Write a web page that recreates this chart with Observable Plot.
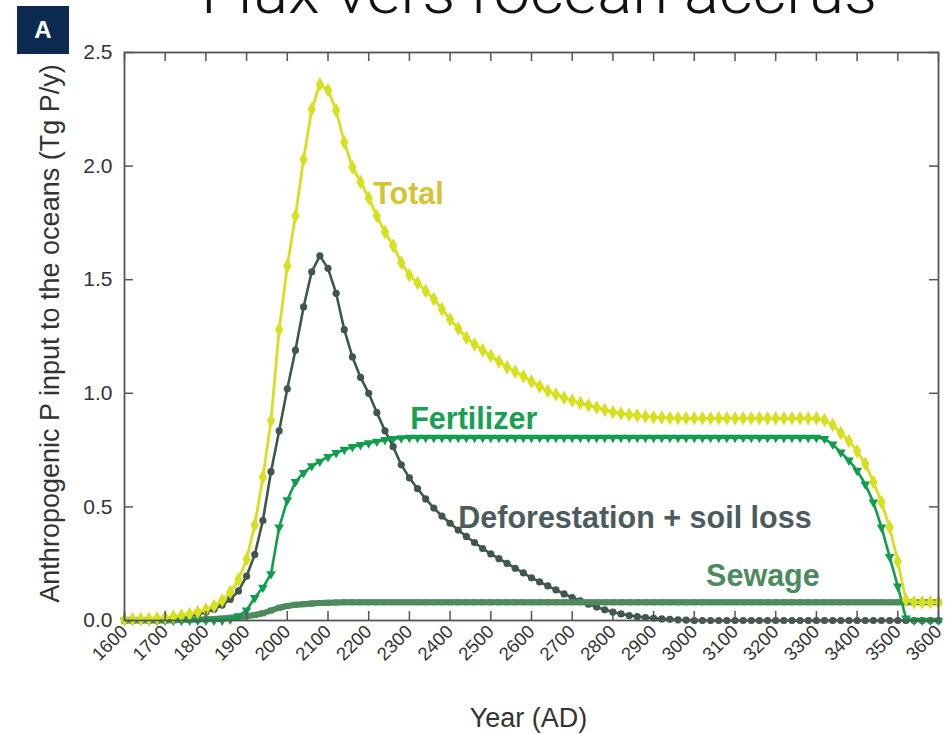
<!DOCTYPE html>
<html><head><meta charset="utf-8">
<script src="https://cdn.jsdelivr.net/npm/d3@7"></script>
<script src="https://cdn.jsdelivr.net/npm/@observablehq/plot@0.6"></script>
<style>
body{margin:0;background:#fff;}
#wrap{position:relative;width:945px;height:734px;overflow:hidden;font-family:"Liberation Sans",Arial,sans-serif;}
#overlay{position:absolute;left:0;top:0;pointer-events:none;}
</style></head><body><div id="wrap"></div>
<script>
// Sample years (every 20 years)
const years = [1600,1620,1640,1660,1680,1700,1720,1740,1760,1780,1800,1820,1840,1860,1880,1900,1920,1940,1960,1980,
2000,2020,2040,2060,2080,2100,2120,2140,2160,2180,2200,2220,2240,2260,2280,2300,2320,2340,2360,2380,
2400,2420,2440,2460,2480,2500,2520,2540,2560,2580,2600,2620,2640,2660,2680,2700,2720,2740,2760,2780,
2800,2820,2840,2860,2880,2900,2920,2940,2960,2980,3000,3020,3040,3060,3080,3100,3120,3140,3160,3180,
3200,3220,3240,3260,3280,3300,3320,3340,3360,3380,3400,3420,3440,3460,3480,3500,3520,3540,3560,3580,3600];

const totalVals = [0.004,0.005,0.006,0.008,0.010,0.013,0.017,0.022,0.029,0.037,0.048,0.064,0.088,0.125,0.18,0.27,0.42,0.63,0.88,1.28,
1.56,1.78,2.03,2.25,2.36,2.335,2.245,2.105,1.995,1.93,1.86,1.78,1.71,1.65,1.575,1.52,1.485,1.45,1.415,1.37,
1.325,1.285,1.245,1.215,1.19,1.165,1.14,1.115,1.095,1.075,1.052,1.03,1.01,0.995,0.98,0.968,0.957,0.947,0.937,0.927,
0.918,0.911,0.906,0.902,0.898,0.895,0.893,0.891,0.89,0.89,0.89,0.89,0.89,0.89,0.89,0.89,0.89,0.89,0.89,0.89,
0.89,0.89,0.89,0.89,0.89,0.89,0.882,0.86,0.825,0.79,0.745,0.69,0.61,0.52,0.41,0.26,0.09,0.08,0.08,0.08,0.08];

const fertilizerVals = [0,0,0,0,0,0,0,0,0,0,0,0,0,0.005,0.02,0.045,0.1,0.145,0.205,0.41,
0.53,0.61,0.65,0.68,0.70,0.72,0.738,0.752,0.764,0.773,0.781,0.788,0.795,0.80,0.803,0.805,0.805,0.805,0.805,0.805,
0.805,0.805,0.805,0.805,0.805,0.805,0.805,0.805,0.805,0.805,0.805,0.805,0.805,0.805,0.805,0.805,0.805,0.805,0.805,0.805,
0.805,0.805,0.805,0.805,0.805,0.805,0.805,0.805,0.805,0.805,0.805,0.805,0.805,0.805,0.805,0.805,0.805,0.805,0.805,0.805,
0.805,0.805,0.805,0.805,0.805,0.805,0.80,0.775,0.74,0.705,0.66,0.60,0.52,0.41,0.28,0.15,0.01,0,0,0,0];

const deforestationVals = [0,0.001,0.002,0.004,0.006,0.009,0.012,0.016,0.021,0.028,0.037,0.05,0.068,0.093,0.13,0.195,0.29,0.44,0.655,0.835,
1.02,1.19,1.38,1.535,1.605,1.55,1.44,1.28,1.16,1.07,1.0,0.915,0.835,0.765,0.685,0.628,0.58,0.535,0.495,0.46,
0.428,0.398,0.37,0.343,0.317,0.293,0.272,0.251,0.23,0.21,0.188,0.17,0.152,0.135,0.117,0.101,0.086,0.072,0.059,0.047,
0.037,0.029,0.022,0.017,0.013,0.01,0.007,0.005,0.003,0.002,0,0,0,0,0,0,0,0,0,0,
0,0,0,0,0,0,0,0,0,0,0,0,0,0,0,0,0,0,0,0,0];

const sewageVals = [0,0,0,0,0,0,0.001,0.002,0.003,0.004,0.005,0.007,0.009,0.012,0.015,0.019,0.024,0.032,0.044,0.056,
0.064,0.069,0.072,0.075,0.077,0.078,0.079,0.08,0.08,0.08,0.08,0.08,0.08,0.08,0.08,0.08,0.08,0.08,0.08,0.08,
0.08,0.08,0.08,0.08,0.08,0.08,0.08,0.08,0.08,0.08,0.08,0.08,0.08,0.08,0.08,0.08,0.08,0.08,0.08,0.08,
0.08,0.08,0.08,0.08,0.08,0.08,0.08,0.08,0.08,0.08,0.08,0.08,0.08,0.08,0.08,0.08,0.08,0.08,0.08,0.08,
0.08,0.08,0.08,0.08,0.08,0.08,0.08,0.08,0.08,0.08,0.08,0.08,0.08,0.08,0.08,0.08,0.08,0.08,0.08,0.08,0.08];

// Axis tick values
const xTickYears = [1600,1700,1800,1900,2000,2100,2200,2300,2400,2500,2600,2700,2800,2900,3000,3100,3200,3300,3400,3500,3600];
const yTickValues = [0, 0.5, 1.0, 1.5, 2.0, 2.5];

// Series labels (anchor year / value)
const labelNames = ["Total", "Fertilizer", "Deforestation + soil loss", "Sewage"];
const labelYears = [2211, 2302, 2420, 3029];
const labelValues = [1.835, 0.845, 0.409, 0.154];

const titleText = "Flux vers l’océan accrus";
const badgeText = "A";
const yTitle = "Anthropogenic P input to the oceans (Tg P/y)";
const xTitle = "Year (AD)";

const rows = (vals) => years.map((y, i) => ({year: y, value: vals[i]}));

const colTotal = "#d6e01c", colFert = "#109e4e", colDef = "#3f574d", colSew = "#4f8a5e";
const labelColors = ["#d6c335", "#17a052", "#4c5c5c", "#4d8b5f"];
const labels = labelNames.map((n, i) => ({name: n, year: labelYears[i], value: labelValues[i], color: labelColors[i]}));

const fontFam = '"Liberation Sans", Arial, sans-serif';
const axisCol = "#555";

const chart = Plot.plot({
  width: 945, height: 734,
  marginTop: 52, marginBottom: 114, marginLeft: 124, marginRight: 7,
  style: {fontFamily: fontFam, background: "#fff", overflow: "visible"},
  x: {domain: [1600, 3600]},
  y: {domain: [0, 2.5]},
  marks: [
    // deforestation
    Plot.line(rows(deforestationVals), {x: "year", y: "value", stroke: colDef, strokeWidth: 2.6}),
    Plot.dot(rows(deforestationVals), {x: "year", y: "value", fill: colDef, r: 3.6, symbol: "circle"}),
    // sewage
    Plot.line(rows(sewageVals), {x: "year", y: "value", stroke: colSew, strokeWidth: 6}),
    Plot.dot(rows(sewageVals), {x: "year", y: "value", fill: colSew, r: 3.4, symbol: "square"}),
    // fertilizer
    Plot.line(rows(fertilizerVals), {x: "year", y: "value", stroke: colFert, strokeWidth: 2.6}),
    Plot.dot(rows(fertilizerVals), {x: "year", y: "value", fill: colFert, r: 3.6, symbol: "triangle", rotate: 180}),
    // total
    Plot.line(rows(totalVals), {x: "year", y: "value", stroke: colTotal, strokeWidth: 2.8}),
    Plot.dot(rows(totalVals), {x: "year", y: "value", fill: colTotal, r: 4.4, symbol: "diamond"}),
    // frame and inward ticks
    Plot.frame({stroke: axisCol, strokeWidth: 1.8}),
    Plot.ruleX(xTickYears, {x: d => d, y1: 0, y2: 0.04, stroke: axisCol, strokeWidth: 1.5}),
    Plot.ruleX(xTickYears, {x: d => d, y1: 2.5, y2: 2.46, stroke: axisCol, strokeWidth: 1.5}),
    Plot.ruleY(yTickValues, {y: d => d, x1: 1600, x2: 1622, stroke: axisCol, strokeWidth: 1.5}),
    Plot.ruleY(yTickValues, {y: d => d, x1: 3600, x2: 3578, stroke: axisCol, strokeWidth: 1.5}),
    // axes
    Plot.axisY(yTickValues, {tickSize: 0, tickPadding: 12, fontSize: 21, fill: "#333", tickFormat: d3.format(".1f"), label: null}),
    Plot.axisX(xTickYears, {tickSize: 0, tickPadding: 8, tickRotate: -45, fontSize: 18.5, fill: "#333", tickFormat: d => String(d), label: null}),
    // axis titles
    Plot.text([yTitle], {frameAnchor: "left", dx: -74, dy: -3, rotate: -90, fontSize: 27, fill: "#333", textAnchor: "middle", lineAnchor: "middle"}),
    Plot.text([xTitle], {frameAnchor: "bottom", dx: -3, dy: 98, fontSize: 27, fill: "#333", textAnchor: "middle", lineAnchor: "middle"}),
    // series labels
    ...labels.map(l => Plot.text([l], {x: "year", y: "value", text: "name", fill: l.color, fontSize: 30.5, fontWeight: "bold", textAnchor: "start", lineAnchor: "bottom"}))
  ]
});

const wrap = document.getElementById("wrap");
wrap.appendChild(chart);

// Overlay: badge and cropped title
const ns = "http://www.w3.org/2000/svg";
const ov = document.createElementNS(ns, "svg");
ov.setAttribute("id", "overlay");
ov.setAttribute("width", 945);
ov.setAttribute("height", 60);
const rect = document.createElementNS(ns, "rect");
rect.setAttribute("x", 17); rect.setAttribute("y", 6); rect.setAttribute("width", 52); rect.setAttribute("height", 48);
rect.setAttribute("fill", "#0c2a4f");
ov.appendChild(rect);
const at = document.createElementNS(ns, "text");
at.setAttribute("x", 43); at.setAttribute("y", 38); at.setAttribute("text-anchor", "middle");
at.setAttribute("fill", "#fff"); at.setAttribute("font-size", 24); at.setAttribute("font-weight", "bold");
at.setAttribute("font-family", fontFam);
at.textContent = badgeText;
ov.appendChild(at);
const tt = document.createElementNS(ns, "text");
tt.setAttribute("x", 201); tt.setAttribute("y", 13);
tt.setAttribute("fill", "#111"); tt.setAttribute("font-size", 62); tt.setAttribute("font-weight", 300);
tt.setAttribute("font-family", "Roboto, 'Noto Sans', sans-serif");
tt.setAttribute("textLength", 676); tt.setAttribute("lengthAdjust", "spacingAndGlyphs");
tt.textContent = titleText;
ov.appendChild(tt);
wrap.appendChild(ov);
</script></body></html>
